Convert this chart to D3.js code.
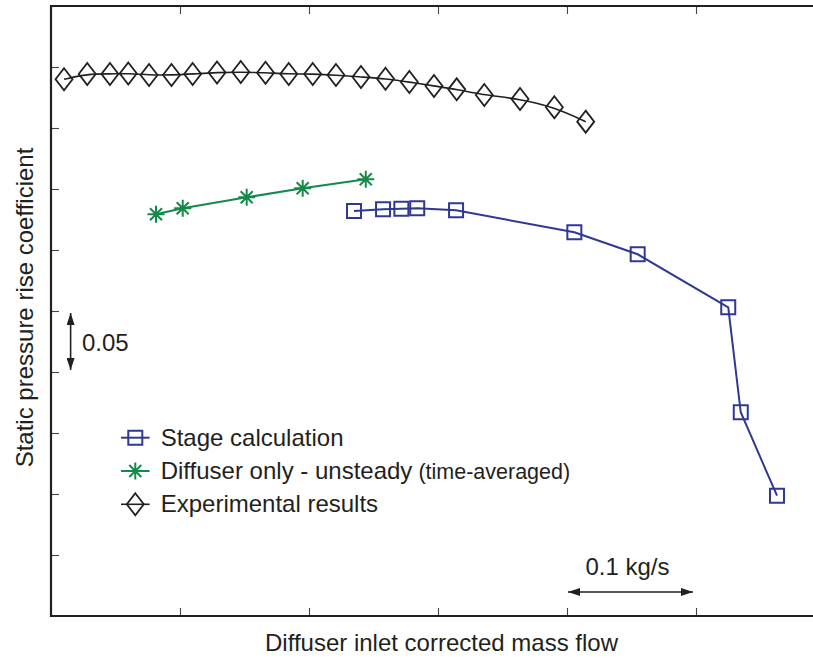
<!DOCTYPE html>
<html>
<head>
<meta charset="utf-8">
<script src="https://cdn.jsdelivr.net/npm/d3@7"></script>
<style>
  html, body { margin: 0; padding: 0; background: #fff; }
  svg { display: block; font-family: "Liberation Sans", Arial, Helvetica, sans-serif; }
</style>
</head>
<body>
<svg id="chart" width="813" height="658"></svg>
<script>
// Mass flow (kg/s, relative to the left edge of the plot) and static pressure rise coefficient
const stageFlow  = [0.2349, 0.2574, 0.2716, 0.2839, 0.3140, 0.4057, 0.4548, 0.5250, 0.5347, 0.5628];
const stageCp    = [0.3320, 0.3334, 0.3339, 0.3343, 0.3326, 0.3145, 0.2965, 0.2530, 0.1670, 0.0986];

const diffFlow   = [0.0814, 0.1021, 0.1517, 0.1951, 0.2440];
const diffCp     = [0.3293, 0.3342, 0.3432, 0.3506, 0.3580];

const expFlow    = [0.0101, 0.0281, 0.0457, 0.0599, 0.0760, 0.0934, 0.1098, 0.1287, 0.1471, 0.1663, 0.1843,
                    0.2029, 0.2209, 0.2403, 0.2593, 0.2778, 0.2969, 0.3145, 0.3359, 0.3636, 0.3902, 0.4145];
const expCp      = [0.4399, 0.4443, 0.4443, 0.4447, 0.4434, 0.4434, 0.4443, 0.4455, 0.4459, 0.4453, 0.4443,
                    0.4443, 0.4434, 0.4418, 0.4404, 0.4377, 0.4344, 0.4317, 0.4270, 0.4238, 0.4170, 0.4052];

// Unlabelled tick positions
const xTicks = [0.1, 0.2, 0.3, 0.4, 0.5];
const yTicks = [0.05, 0.10, 0.15, 0.20, 0.25, 0.30, 0.35, 0.40, 0.45];

// Scale bars
const flowBar = { from: 0.4, to: 0.5, y: 0.0197, label: "0.1 kg/s" };
const cpBar   = { from: 0.20, to: 0.25, x: 0.0152, label: "0.05" };

const legendItems = [
  { key: "stage", label: "Stage calculation", extra: "" },
  { key: "diff",  label: "Diffuser only - unsteady", extra: "(time-averaged)" },
  { key: "exp",   label: "Experimental results", extra: "" }
];

const colors = { stage: "#2f3894", diff: "#138a4a", exp: "#231f20" };
const ink = "#231f20";

const svg = d3.select("#chart");
const x = d3.scaleLinear().domain([0, 0.5907]).range([51, 813]);
const y = d3.scaleLinear().domain([0, 0.5]).range([616, 6]);

// Frame: left, top and bottom rules with inward ticks
function styleAxis(g) {
  g.select(".domain").remove();
  g.selectAll(".tick line").attr("stroke", "#444").attr("stroke-width", 1.1);
}
svg.append("g").attr("transform", `translate(${x(0)},0)`)
  .call(d3.axisLeft(y).tickValues(yTicks).tickSize(-8).tickFormat(""))
  .call(styleAxis);
svg.append("g").attr("transform", `translate(0,${y(0.5)})`)
  .call(d3.axisTop(x).tickValues(xTicks).tickSize(-8).tickFormat(""))
  .call(styleAxis);
svg.append("g").attr("transform", `translate(0,${y(0)})`)
  .call(d3.axisBottom(x).tickValues(xTicks).tickSize(-8).tickFormat(""))
  .call(styleAxis);

const frame = svg.append("g").attr("stroke", ink).attr("stroke-width", 2.2).attr("fill", "none");
frame.append("line").attr("x1", x(0)).attr("x2", x(0)).attr("y1", y(0.5) - 1.1).attr("y2", y(0) + 1.1);
frame.append("line").attr("x1", x(0)).attr("x2", x(0.5907)).attr("y1", y(0.5)).attr("y2", y(0.5));
frame.append("line").attr("x1", x(0)).attr("x2", x(0.5907)).attr("y1", y(0)).attr("y2", y(0));

// Axis titles
svg.append("text")
  .attr("x", 441.5).attr("y", 651)
  .attr("text-anchor", "middle").attr("font-size", 24).attr("fill", ink)
  .text("Diffuser inlet corrected mass flow");
svg.append("text")
  .attr("transform", `translate(33,${307.5}) rotate(-90)`)
  .attr("text-anchor", "middle").attr("font-size", 24).attr("fill", ink)
  .text("Static pressure rise coefficient");

// Marker shapes
function squarePath(s) { const h = s / 2; return `M${-h},${-h}H${h}V${h}H${-h}Z`; }
function diamondPath(w, h) { return `M0,${-h}L${w},0L0,${h}L${-w},0Z`; }
function starPath(r) {
  const d = r * Math.SQRT1_2;
  return `M${-r},0H${r}M0,${-r}V${r}M${-d},${-d}L${d},${d}M${-d},${d}L${d},${-d}`;
}
const markers = {
  stage: { d: squarePath(14), width: 2 },
  diff:  { d: starPath(8.5), width: 2 },
  exp:   { d: diamondPath(8.5, 11), width: 1.8 }
};

function drawSeries(flow, cp, key, curve) {
  const pts = flow.map((f, i) => [f, cp[i]]);
  const line = d3.line().x(d => x(d[0])).y(d => y(d[1])).curve(curve);
  svg.append("path").datum(pts)
    .attr("d", line).attr("fill", "none")
    .attr("stroke", colors[key]).attr("stroke-width", key === "exp" ? 1.6 : 2);
  svg.append("g").selectAll("path").data(pts).join("path")
    .attr("transform", d => `translate(${x(d[0])},${y(d[1])})`)
    .attr("d", markers[key].d)
    .attr("fill", "none").attr("stroke", colors[key])
    .attr("stroke-width", markers[key].width);
}
drawSeries(expFlow, expCp, "exp", d3.curveBasis);
drawSeries(diffFlow, diffCp, "diff", d3.curveLinear);
drawSeries(stageFlow, stageCp, "stage", d3.curveLinear);

// Legend
const legend = svg.append("g").attr("transform", "translate(121,437.7)");
legendItems.forEach((item, i) => {
  const g = legend.append("g").attr("transform", `translate(0,${i * 33.3})`);
  g.append("line").attr("x1", 0).attr("x2", 28.6).attr("y1", 0).attr("y2", 0)
    .attr("stroke", colors[item.key]).attr("stroke-width", item.key === "exp" ? 1.6 : 2);
  g.append("path").attr("transform", "translate(14.3,0)").attr("d", markers[item.key].d)
    .attr("fill", "none").attr("stroke", colors[item.key]).attr("stroke-width", markers[item.key].width);
  const t = g.append("text").attr("x", 39.7).attr("y", 8).attr("font-size", 24).attr("fill", ink);
  t.append("tspan").text(item.label);
  if (item.extra) t.append("tspan").attr("font-size", 21.5).attr("dx", 6).text(item.extra);
});

// Scale bars with double-headed arrows
const defs = svg.append("defs");
defs.append("marker").attr("id", "head")
  .attr("viewBox", "0 0 12 8").attr("refX", 12).attr("refY", 4)
  .attr("markerWidth", 12).attr("markerHeight", 8).attr("markerUnits", "userSpaceOnUse")
  .attr("orient", "auto-start-reverse")
  .append("path").attr("d", "M0,0L12,4L0,8Z").attr("fill", ink);

svg.append("line")
  .attr("x1", x(flowBar.from) + 1).attr("x2", x(flowBar.to) - 3)
  .attr("y1", y(flowBar.y)).attr("y2", y(flowBar.y))
  .attr("stroke", ink).attr("stroke-width", 1.6)
  .attr("marker-start", "url(#head)").attr("marker-end", "url(#head)");
svg.append("text")
  .attr("x", (x(flowBar.from) + x(flowBar.to)) / 2 - 4).attr("y", 575)
  .attr("text-anchor", "middle").attr("font-size", 24).attr("fill", ink)
  .text(flowBar.label);

svg.append("line")
  .attr("x1", x(cpBar.x)).attr("x2", x(cpBar.x))
  .attr("y1", y(cpBar.to) + 2).attr("y2", y(cpBar.from) - 2)
  .attr("stroke", ink).attr("stroke-width", 1.6)
  .attr("marker-start", "url(#head)").attr("marker-end", "url(#head)");
svg.append("text")
  .attr("x", 82).attr("y", 351)
  .attr("font-size", 24).attr("fill", ink)
  .text(cpBar.label);
</script>
</body>
</html>
